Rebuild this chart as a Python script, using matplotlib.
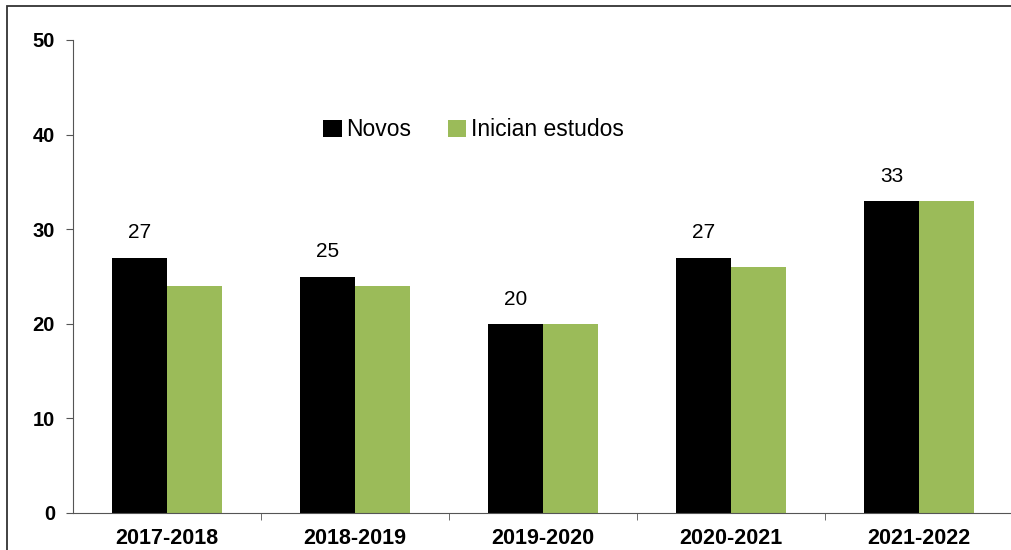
import matplotlib.pyplot as plt
import matplotlib.patches as patches
import numpy as np

plt.rcParams['font.family'] = ['Liberation Sans', 'DejaVu Sans']

# Data
years = ['2017-2018', '2018-2019', '2019-2020', '2020-2021', '2021-2022']
novos = [27, 25, 20, 27, 33]
inician = [24, 24, 20, 26, 33]

fig = plt.figure(figsize=(10.11, 5.5), dpi=100)
ax = fig.add_axes([73 / 1011, 37 / 550, 940 / 1011, 473 / 550])

# Outer frame of the chart area (only top and left edges are visible)
fig.patches.append(patches.Rectangle((7 / 1011, -0.1), 1.2, 1.1 - 6 / 550,
                                     transform=fig.transFigure, fill=False,
                                     edgecolor='#333333', linewidth=1.3))

x = np.arange(len(years))
w = 0.29
ax.bar(x - w / 2, novos, w, color='black', label='Novos')
ax.bar(x + w / 2, inician, w, color='#9BBB59', label='Inician estudos')

# Labels only above the black bars
for xi, v in zip(x, novos):
    ax.annotate(str(v), (xi - w / 2, v), xytext=(0, 11), textcoords='offset points',
                ha='center', va='bottom', fontsize=15)

ax.set_ylim(0, 50)
ax.set_xlim(-0.5, len(years) - 0.5)
ax.set_yticks(range(0, 51, 10))
ax.set_xticks(x)
ax.set_xticklabels(years, fontweight='bold', fontsize=15.5)
ax.set_xticks(np.arange(0.5, len(years) - 0.5 + 0.01, 1), minor=True)
ax.tick_params(axis='x', which='major', length=0, pad=10.5)
ax.tick_params(axis='x', which='minor', length=5, direction='out', color='#555555')
ax.tick_params(axis='y', length=5, direction='out', color='#555555', pad=8)
for lab in ax.get_yticklabels():
    lab.set_fontweight('bold')
    lab.set_fontsize(14.5)

for s in ['top', 'right']:
    ax.spines[s].set_visible(False)
ax.spines['left'].set_color('#555555')
ax.spines['bottom'].set_color('#555555')

ax.legend(loc='center', bbox_to_anchor=(0.426, 0.81), ncol=2, frameon=False,
          fontsize=16.5, handlelength=0.8, handleheight=0.8, handletextpad=0.2,
          columnspacing=1.6)

fig.savefig('out.png', dpi=100)
